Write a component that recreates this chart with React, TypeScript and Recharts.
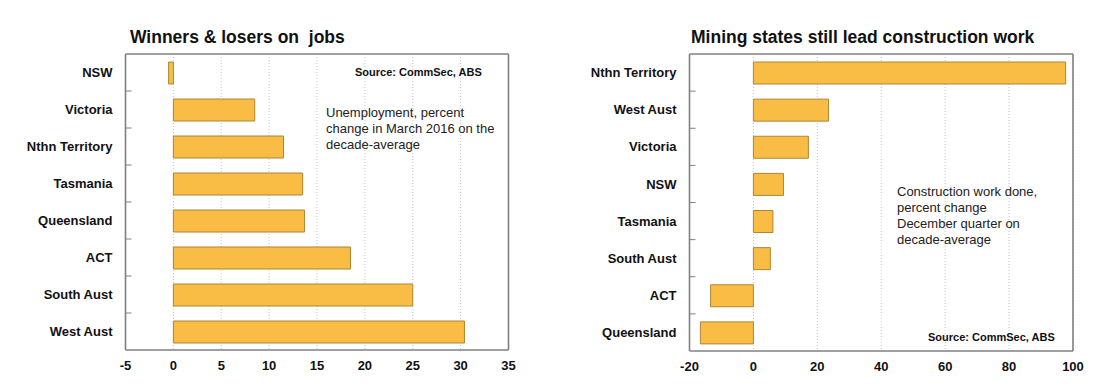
import { Bar, BarChart, CartesianGrid, XAxis, YAxis } from 'recharts';

// left panel: unemployment vs decade average
const jobsStates = ['NSW', 'Victoria', 'Nthn Territory', 'Tasmania', 'Queensland', 'ACT', 'South Aust', 'West Aust'];
const jobsChange = [-0.5, 8.5, 11.5, 13.5, 13.7, 18.5, 25.0, 30.4];
const jobsTicks = [-5, 0, 5, 10, 15, 20, 25, 30, 35];

// right panel: construction work done vs decade average
const buildStates = ['Nthn Territory', 'West Aust', 'Victoria', 'NSW', 'Tasmania', 'South Aust', 'ACT', 'Queensland'];
const buildChange = [97.7, 23.5, 17.2, 9.4, 6.1, 5.3, -13.4, -16.6];
const buildTicks = [-20, 0, 20, 40, 60, 80, 100];

const FONT = '"Liberation Sans", Arial, sans-serif';
const BAR_FILL = '#F9BD45';
const BAR_STROKE = '#AE8634';
const FRAME = '#808080';

function StateTick(props: any) {
  const { x, y, payload, index, count, band } = props;
  const half = payload?.offset ?? band / 2;
  return (
    <g>
      <text
        x={x}
        y={y}
        dy="0.36em"
        textAnchor="end"
        fontFamily={FONT}
        fontWeight="bold"
        fontSize={13}
        fill="#111"
      >
        {payload.value}
      </text>
      {index < count - 1 && (
        <line x1={x + 13} x2={x + 19} y1={y + half} y2={y + half} stroke={FRAME} strokeWidth={1} />
      )}
    </g>
  );
}

function Panel({
  states,
  values,
  ticks,
  width,
  axisWidth,
  right,
  bottom,
}: {
  states: string[];
  values: number[];
  ticks: number[];
  width: number;
  axisWidth: number;
  right: number;
  bottom: number;
}) {
  const data = states.map((s, i) => ({ state: s, value: values[i] }));
  const top = 54;
  const plotH = 390 - top - bottom - 30;
  return (
    <BarChart
      width={width}
      height={390}
      data={data}
      layout="vertical"
      margin={{ top, right, bottom, left: 0 }}
      barSize={22}
    >
      <CartesianGrid
        horizontal={false}
        stroke="#c4c4c4"
        strokeDasharray="1 2"
      />
      <CartesianGrid
        stroke={FRAME}
        strokeWidth={1.6}
        horizontalCoordinatesGenerator={({ offset }: any) => [offset.top, offset.top + offset.height]}
        verticalCoordinatesGenerator={({ offset }: any) => [offset.left, offset.left + offset.width]}
      />
      <XAxis
        type="number"
        domain={[ticks[0], ticks[ticks.length - 1]]}
        ticks={ticks}
        interval={0}
        axisLine={false}
        tickLine={false}
        tickSize={0}
        tickMargin={11}
        height={30}
        tick={{ fill: '#111', fontSize: 13, fontWeight: 'bold', fontFamily: FONT }}
      />
      <YAxis
        type="category"
        dataKey="state"
        width={axisWidth}
        axisLine={false}
        tickLine={false}
        tickSize={0}
        tickMargin={13}
        interval={0}
        tick={<StateTick count={states.length} band={plotH / states.length} />}
      />
      <Bar
        dataKey="value"
        fill={BAR_FILL}
        stroke={BAR_STROKE}
        strokeWidth={1}
        isAnimationActive={false}
      />
    </BarChart>
  );
}

const abs = (left: number, top: number, extra: React.CSSProperties = {}): React.CSSProperties => ({
  position: 'absolute',
  left,
  top,
  fontFamily: FONT,
  whiteSpace: 'pre',
  ...extra,
});

export default function App() {
  const title: React.CSSProperties = { fontSize: 17.5, fontWeight: 'bold', color: '#111', lineHeight: '20px' };
  const note: React.CSSProperties = { fontSize: 13, color: '#222', lineHeight: '16px' };
  const source: React.CSSProperties = { fontSize: 11, fontWeight: 'bold', color: '#111', lineHeight: '14px' };
  return (
    <div style={{ position: 'absolute', left: 0, top: 0, width: 1116, height: 390, background: '#fff' }}>
      <div style={{ position: 'absolute', left: 0, top: 0 }}>
        <Panel
          states={jobsStates}
          values={jobsChange}
          ticks={jobsTicks}
          width={560}
          axisWidth={125.5}
          right={51.5}
          bottom={10}
        />
      </div>
      <div style={{ position: 'absolute', left: 560, top: 0 }}>
        <Panel
          states={buildStates}
          values={buildChange}
          ticks={buildTicks}
          width={556}
          axisWidth={129.5}
          right={43}
          bottom={9}
        />
      </div>

      <div style={abs(130, 27, title)}>Winners &amp; losers on  jobs</div>
      <div style={abs(691, 27, title)}>Mining states still lead construction work</div>

      <div style={abs(355, 65, source)}>Source: CommSec, ABS</div>
      <div style={abs(326, 105, note)}>
        {'Unemployment, percent\nchange in March 2016 on the\ndecade-average'}
      </div>

      <div style={abs(897, 184, note)}>
        {'Construction work done,\npercent change\nDecember quarter on\ndecade-average'}
      </div>
      <div style={abs(928, 330, source)}>Source: CommSec, ABS</div>
    </div>
  );
}
